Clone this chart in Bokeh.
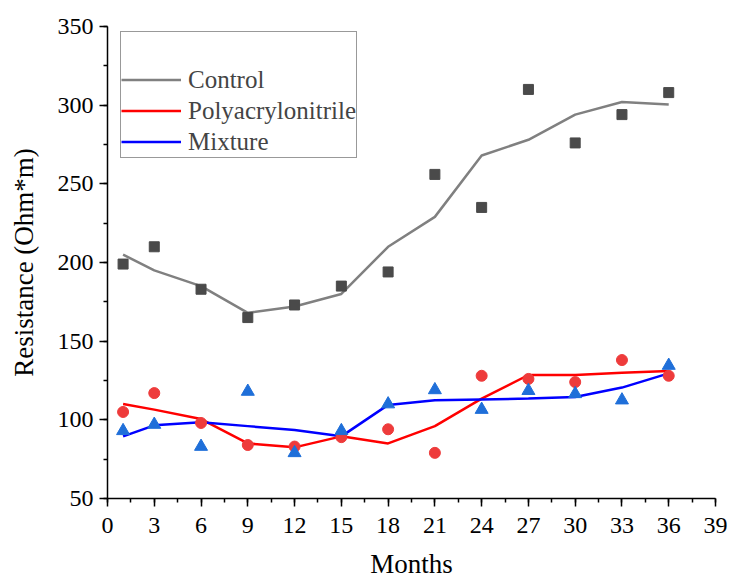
from bokeh.plotting import figure
from bokeh.models import SingleIntervalTicker, Legend, LegendItem, Range1d
from bokeh.embed import file_html
from bokeh.resources import INLINE

months = [1, 3, 6, 9, 12, 15, 18, 21, 24, 27, 30, 33, 36]
control_pts = [199, 210, 183, 165, 173, 185, 194, 256, 235, 310, 276, 294, 308]
control_fit = [205, 195, 185, 168, 172, 180, 210, 229, 268, 278, 294, 302, 300.5]
pan_pts = [105, 117, 98, 84, 83, 89, 94, 79, 128, 126, 124, 138, 128]
pan_fit = [110, 106.5, 100.5, 85, 82.5, 89.5, 85, 96, 113.5, 128.5, 128.5, 130, 131]
mix_pts = [93, 97, 83, 118, 79, 93, 110, 119, 106.5, 118.5, 116.5, 112.5, 134.5]
mix_fit = [89.5, 96.5, 98.5, 96, 93.5, 89.5, 109.5, 112.5, 113, 113.5, 114.5, 120.5, 129.5]
series_names = ["Control", "Polyacrylonitrile", "Mixture"]

FONT = "Liberation Serif"

p = figure(width=728, height=581, output_backend="svg", toolbar_location=None,
           x_range=Range1d(0, 39), y_range=Range1d(50, 350),
           min_border_left=107, min_border_right=13, min_border_top=26, min_border_bottom=83)
p.outline_line_color = None
p.grid.visible = False
p.background_fill_color = "white"

p.xaxis.ticker = SingleIntervalTicker(interval=3, num_minor_ticks=2)
p.yaxis.ticker = SingleIntervalTicker(interval=50, num_minor_ticks=2)
for ax in (p.xaxis, p.yaxis):
    ax.axis_line_color = "black"
    ax.axis_line_width = 1.5
    ax.major_tick_line_color = "black"
    ax.minor_tick_line_color = "black"
    ax.major_tick_line_width = 1.5
    ax.minor_tick_line_width = 1.5
    ax.major_tick_in = 0
    ax.major_tick_out = 8
    ax.minor_tick_in = 0
    ax.minor_tick_out = 4
    ax.major_label_text_font = FONT
    ax.major_label_text_font_size = "24px"
    ax.major_label_text_color = "black"
    ax.axis_label_text_font = FONT
    ax.axis_label_text_font_size = "27px"
    ax.axis_label_text_font_style = "normal"
    ax.axis_label_text_color = "black"

p.xaxis.major_label_standoff = 11
p.yaxis.major_label_standoff = 6
p.xaxis.axis_label = "Months"
p.yaxis.axis_label = "Resistance (Ohm*m)"
p.xaxis.axis_label_standoff = 13
p.yaxis.axis_label_standoff = 16

l1 = p.line(months, control_fit, line_color="#808080", line_width=2.5)
l2 = p.line(months, pan_fit, line_color="#ff0000", line_width=2.5)
l3 = p.line(months, mix_fit, line_color="#0000ff", line_width=2.5)

p.scatter(months, control_pts, marker="square", size=10, fill_color="#4a4a4a", line_color="#4a4a4a")
p.scatter(months, pan_pts, marker="circle", size=11, fill_color="#ee3b3b", line_color="#ee3b3b")
p.scatter(months, mix_pts, marker="triangle", size=13, fill_color="#1f6fd9", line_color="#1f6fd9")

legend = Legend(items=[LegendItem(label=series_names[0], renderers=[l1]),
                       LegendItem(label=series_names[1], renderers=[l2]),
                       LegendItem(label=series_names[2], renderers=[l3])],
                location=(13, 340), title=" ", title_text_font_size="24px",
                title_standoff=4, padding=0, spacing=0, margin=0,
                label_text_font=FONT, label_text_font_size="25px",
                label_height=31, glyph_height=31, glyph_width=60, label_standoff=7,
                border_line_color="#333333", border_line_width=1,
                background_fill_alpha=1.0)
p.add_layout(legend, "center")

open("out.html", "w").write(file_html(p, INLINE))
